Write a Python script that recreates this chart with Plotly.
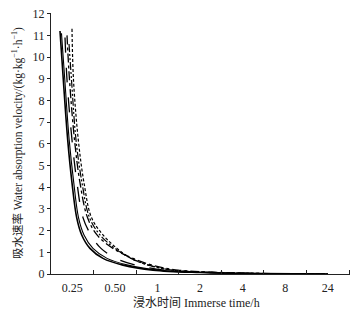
import plotly.graph_objects as go

# tick labels for the time bins
x_labels = ["0.25", "0.50", "1", "2", "4", "8", "24"]
x_label_pos = [0.5, 1.5, 2.5, 3.5, 4.5, 5.5, 6.5]
x_tick_bounds = [1, 2, 3, 4, 5, 6, 7]

# velocity levels
v_s1 = [11.2, 8.95, 6.18, 4.2, 2.6, 1.8, 1.18, 0.72, 0.41, 0.18, 0.07, 0.02, 0.0]
v_s2 = [11.1, 8.95, 6.18, 4.2, 2.6, 1.8, 1.18, 0.72, 0.41, 0.18, 0.07, 0.02, 0.0]
v_s3 = [10.9, 8.95, 6.18, 4.2, 2.6, 1.8, 1.18, 0.72, 0.41, 0.18, 0.07, 0.02, 0.0]
v_s4 = [11.0, 8.95, 6.18, 4.2, 2.6, 1.8, 1.18, 0.72, 0.41, 0.18, 0.07, 0.02, 0.0]
v_s5 = [10.6, 8.95, 6.18, 4.2, 2.6, 1.8, 1.18, 0.72, 0.41, 0.18, 0.07, 0.02, 0.0]
v_s6 = [11.3, 8.95, 6.18, 4.2, 2.6, 1.8, 1.18, 0.72, 0.41, 0.18, 0.07, 0.02, 0.0]

# positions along the time axis (bin units)
t_s1 = [0.211, 0.289, 0.392, 0.493, 0.603, 0.721, 0.915, 1.221, 1.690, 2.394, 3.498, 4.906, 6.502]
t_s2 = [0.246, 0.324, 0.427, 0.535, 0.646, 0.775, 0.986, 1.315, 1.808, 2.512, 3.615, 4.953, 6.502]
t_s3 = [0.329, 0.376, 0.493, 0.610, 0.751, 0.939, 1.174, 1.526, 1.995, 2.653, 3.732, 5.023, 6.502]
t_s4 = [0.376, 0.434, 0.552, 0.681, 0.857, 1.080, 1.455, 1.925, 2.371, 2.981, 4.014, 5.188, 6.502]
t_s5 = [0.423, 0.481, 0.587, 0.728, 0.904, 1.150, 1.502, 1.878, 2.300, 2.840, 3.873, 5.094, 6.502]
t_s6 = [0.493, 0.528, 0.641, 0.775, 0.951, 1.221, 1.549, 1.878, 2.277, 2.840, 3.873, 5.094, 6.502]

x_title = "浸水时间 Immerse time/h"
y_title = "吸水速率 Water absorption velocity/(kg·kg<sup>−1</sup>·h<sup>−1</sup>)"

series = [
    (t_s1, v_s1, "solid", 1.6),
    (t_s2, v_s2, "solid", 1.1),
    (t_s3, v_s3, "longdash", 1.3),
    (t_s4, v_s4, "dashdot", 1.3),
    (t_s5, v_s5, "8px,2px,2px,2px,2px,2px", 1.2),
    (t_s6, v_s6, "3px,2px", 1.2),
]

fig = go.Figure()
for t, v, dash, w in series:
    fig.add_trace(go.Scatter(
        x=t, y=v, mode="lines",
        line=dict(color="black", width=w, dash=dash, shape="spline", smoothing=1.0),
        showlegend=False, hoverinfo="skip",
    ))

font_family = "Liberation Serif, Times New Roman, Noto Sans CJK SC"

fig.update_layout(
    width=364, height=315,
    margin=dict(l=51, r=14, t=13, b=41),
    paper_bgcolor="white", plot_bgcolor="white",
    font=dict(family=font_family, size=12, color="#222"),
    xaxis=dict(
        range=[0, 7.02], automargin=False,
        tickmode="array", tickvals=x_label_pos, ticktext=x_labels,
        ticks="", showgrid=False, zeroline=False,
        showline=True, linecolor="#222", linewidth=1,
        minor=dict(tickmode="array", tickvals=x_tick_bounds, ticks="inside",
                   ticklen=4, tickcolor="#222", showgrid=False),
        tickfont=dict(size=12), ticklabelstandoff=3,
    ),
    yaxis=dict(
        range=[0, 12.03], automargin=False,
        tickmode="array", tickvals=list(range(0, 13)),
        ticks="outside", ticklen=3, tickcolor="#222",
        showgrid=False, zeroline=False,
        showline=True, linecolor="#222", linewidth=1,
        tickfont=dict(size=12),
    ),
    annotations=[
        dict(text=x_title, xref="paper", yref="paper", x=0.488, y=-0.112,
             xanchor="center", yanchor="middle", showarrow=False,
             font=dict(size=12)),
        dict(text=y_title, xref="paper", yref="paper", x=-0.112, y=0.5,
             xanchor="center", yanchor="middle", textangle=-90, showarrow=False,
             font=dict(size=11.5)),
    ],
)

fig.write_html("out.html", config={"displayModeBar": False},
               post_script="document.body.style.margin='0';")
